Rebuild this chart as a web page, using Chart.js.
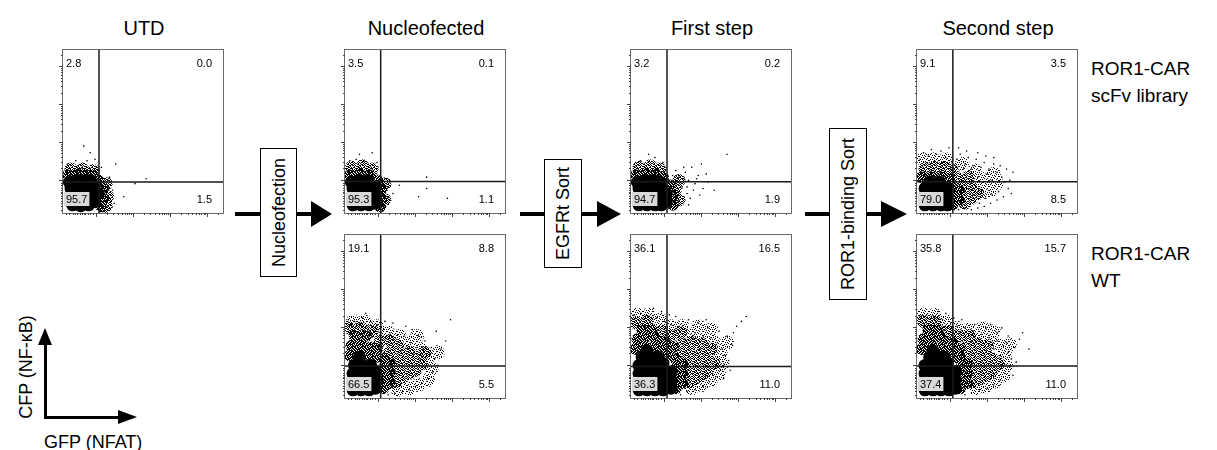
<!DOCTYPE html>
<html><head><meta charset="utf-8">
<script src="https://cdn.jsdelivr.net/npm/chart.js@4.4.1/dist/chart.umd.min.js"></script>
<style>
html,body{margin:0;padding:0;background:#fff;}
body{width:1217px;height:450px;position:relative;overflow:hidden;font-family:"Liberation Sans",Arial,sans-serif;color:#000;}
.t{position:absolute;white-space:nowrap;line-height:1;}
.line{position:absolute;background:#000;}
.stepbox{position:absolute;border:1.5px solid #000;background:#fff;box-sizing:border-box;display:flex;align-items:center;justify-content:center;}
.stepbox span{writing-mode:vertical-rl;transform:rotate(180deg);font-size:18px;line-height:1;white-space:nowrap;}
.headR{position:absolute;width:0;height:0;border-top:13px solid transparent;border-bottom:13px solid transparent;border-left:20px solid #000;}
</style></head>
<body>
<script>
// ---------------- DATA ----------------
const panelTitles = ['UTD', 'Nucleofected', 'First step', 'Second step'];
const rowLabelsTop = ['ROR1-CAR', 'scFv library'];
const rowLabelsBottom = ['ROR1-CAR', 'WT'];
const stepLabels = ['Nucleofection', 'EGFRt Sort', 'ROR1-binding Sort'];
const axisLabelY = 'CFP (NF-\u03BAB)';
const axisLabelX = 'GFP (NFAT)';

// quadrant percentages: [upper-left, upper-right, lower-left, lower-right]
const utdQuad      = [2.8, 0.0, 95.7, 1.5];
const libNucQuad   = [3.5, 0.1, 95.3, 1.1];
const libFirstQuad = [3.2, 0.2, 94.7, 1.9];
const libSecondQuad= [9.1, 3.5, 79.0, 8.5];
const wtNucQuad    = [19.1, 8.8, 66.5, 5.5];
const wtFirstQuad  = [36.1, 16.5, 36.3, 11.0];
const wtSecondQuad = [35.8, 15.7, 37.4, 11.0];

// quadrant gate positions (axis units 0-100)
const gateX = [22.5, 22.3, 22.5, 22.4, 22.3, 22.5, 22.4];
const gateY = [19.0, 19.3, 19.1, 19.2, 19.7, 19.3, 19.6];

// axis ticks (display units 0-100)
const decadeTicks = [20.4, 43.6, 66.9, 90.1];
const logMinor = [0.301, 0.477, 0.602, 0.699, 0.778, 0.845, 0.903, 0.954];
const lowTicks = [2, 4, 6, 7.5, 9, 10.5, 12, 13, 14, 15.5, 17, 18.5];

// event clouds (x, y in display units): solid core, dark, dense and medium density regions, single events
const utdCore = [[6,5],[11,4.5],[16,5],[20,7],[22,12],[5,10],[10,10],[15,10],[20,12],[5,15],[10,15],[15,15],[19,17],[4,19],[9,20],[14,20],[17,20]];
const utdDark = [[3,23],[8,24],[13,24],[18,23],[22,20],[25,15],[25,9],[24,4]];
const utdDense = [[5,27],[12,27],[19,26],[27,18],[28,10],[27,4]];
const utdMid = [];
const utdDots = [[13,41],[17,37],[24,28],[33,30],[45,18],[38,10],[29,22],[52,21],[20,33],[8,32],[31,14],[32,6],[3,30],[15,32]];

const libNucCore = [[5,5],[10,5],[15,5],[19,6],[5,10],[10,10],[15,10],[19,11],[5,15],[10,15],[15,15],[18,16],[4,19],[9,20],[14,20]];
const libNucDark = [[3,23],[9,24],[15,23],[20,20],[23,15],[23,9],[22,4]];
const libNucDense = [[4,28],[11,29],[17,27],[25,18],[25,8]];
const libNucMid = [];
const libNucDots = [[17,37],[7,33],[12,32],[25,21],[34,17],[51,22],[51,15],[46,10],[64,9],[30,12],[28,8],[26,14],[3,32],[20,31],[9,36]];

const libFirstCore = [[5,5],[10,5],[15,5],[19,5],[22,7],[5,10],[10,10],[15,10],[19,10],[22,12],[5,15],[10,15],[15,15],[19,15],[4,19],[9,20],[14,20],[18,19]];
const libFirstDark = [[3,23],[9,24],[15,24],[20,22],[24,17],[26,11],[26,5]];
const libFirstDense = [[5,28],[12,29],[18,27],[28,15],[30,8],[30,20]];
const libFirstMid = [];
const libFirstDots = [[6,32],[15,34],[11,36],[3,31],[20,31],[24,20],[26,23],[28,18],[30,22],[27,14],[32,16],[34,25],[36,20],[38,28],[40,18],[42,23],[44,30],[35,12],[30,8],[39,14],[45,15],[47,24],[33,28],[37,9],[60,36],[52,14],[28,26],[29,11],[31,19],[33,21],[35,16],[41,21],[43,11],[29,4],[36,5],[48,19]];

const libSecondCore = [[5,5],[10,5],[15,5],[19,5],[5,10],[10,10],[15,10],[19,10],[5,15],[10,15],[15,15],[19,15],[8,19],[14,19]];
const libSecondDark = [[22,5],[22,11],[22,16],[26,8],[26,14],[3,22],[9,22],[15,22],[20,21]];
const libSecondDense = [[30,6],[30,12],[30,18],[34,9],[34,15],[26,21],[32,22],[5,27],[11,28],[17,28],[22,26],[38,12]];
const libSecondMid = [[38,17],[42,13],[46,14],[40,21],[10,33],[44,20],[50,18],[36,26],[28,30],[18,33],[4,33],[48,24]];
const libSecondDots = [[2,33],[4,37],[7,35],[9,39],[12,36],[15,38],[18,34],[20,40],[22,31],[25,33],[27,36],[30,30],[32,34],[35,29],[37,33],[40,28],[42,31],[45,27],[48,30],[50,25],[53,22],[55,19],[57,15],[59,12],[54,10],[50,8],[46,6],[42,4],[38,3],[34,2],[30,3],[26,2],[47,20],[51,13],[44,24],[41,19],[38,22],[34,27],[29,27],[25,28],[21,27],[16,31],[11,32],[6,31],[58,20],[60,25],[56,27],[52,29],[48,34],[43,35],[38,37],[31,38],[26,40],[24,14],[27,10],[31,15],[35,11],[39,6],[43,9],[47,11]];

const wtNucCore = [[5,5],[10,5],[15,5],[19,6],[5,10],[10,10],[15,10],[20,11],[5,15],[10,15],[15,15],[19,16],[6,20],[11,20],[16,20],[9,25]];
const wtNucDark = [[3,26],[8,28],[14,27],[19,25],[4,32],[10,33],[16,31],[6,38],[13,38],[24,6],[24,12],[24,18],[24,24],[28,9],[28,15],[28,21],[20,30]];
const wtNucDense = [[3,43],[10,43],[17,41],[22,35],[28,28],[32,10],[32,16],[32,22],[36,13],[36,19],[36,26],[40,15],[40,21],[40,28],[44,17],[44,24],[48,21],[33,32],[50,28],[28,35]];
const wtNucMid = [[5,47],[12,47],[20,44],[27,40],[34,38],[41,34],[47,30],[52,25],[54,18],[52,11],[46,8],[40,6],[33,5],[58,28],[45,38]];
const wtNucDots = [[2,48],[6,47],[11,49],[16,47],[20,45],[24,42],[28,40],[33,39],[37,38],[41,34],[45,31],[49,30],[53,27],[56,24],[58,20],[55,16],[52,12],[48,9],[44,7],[40,5],[36,4],[31,3],[27,2],[50,35],[46,38],[42,42],[38,44],[30,46],[25,47],[60,30],[63,35],[66,48],[57,41],[13,52],[44,14],[47,24],[39,30],[30,36],[22,38],[35,29],[43,27],[51,21],[54,31],[19,41],[9,46],[4,45]];

const wtFirstCore = [[5,5],[10,5],[15,5],[20,5],[25,6],[5,10],[10,10],[15,10],[20,10],[25,11],[5,15],[10,15],[15,15],[20,15],[25,16],[5,20],[10,20],[15,20],[20,21],[7,25],[12,25],[17,25],[10,29]];
const wtFirstDark = [[3,30],[8,32],[14,31],[19,29],[24,26],[4,36],[10,38],[16,36],[21,34],[28,6],[28,12],[28,18],[28,24],[32,9],[32,15],[32,21],[7,42],[13,42],[26,31]];
const wtFirstDense = [[19,41],[3,46],[10,47],[25,38],[32,33],[32,27],[36,10],[36,16],[36,22],[36,29],[40,12],[40,18],[40,25],[44,14],[44,20],[44,27],[48,17],[48,24],[52,21],[38,34],[44,33],[50,30],[31,40]];
const wtFirstMid = [[4,51],[11,51],[18,48],[25,44],[32,44],[39,39],[46,37],[52,34],[56,28],[57,21],[55,15],[50,11],[44,8],[38,6],[60,34],[50,42],[42,44]];
const wtFirstDots = [[2,51],[6,52],[11,50],[16,49],[21,47],[25,45],[30,44],[35,42],[40,40],[45,38],[50,37],[54,34],[57,30],[59,26],[58,21],[56,17],[53,13],[49,10],[45,7],[40,5],[35,4],[31,2],[60,38],[64,40],[66,44],[69,47],[72,50],[63,33],[55,41],[48,43],[42,46],[36,48],[28,50],[19,53],[14,55],[61,23],[62,17],[58,12],[47,31],[52,27],[43,30],[39,37],[34,36],[27,41],[24,51],[47,48]];

const wtSecondCore = [[5,5],[10,5],[15,5],[20,5],[24,6],[5,10],[10,10],[15,10],[20,10],[24,11],[5,15],[10,15],[15,15],[20,15],[24,16],[5,20],[10,20],[15,20],[19,21],[8,25],[13,25],[17,25],[10,29]];
const wtSecondDark = [[3,30],[9,32],[15,31],[20,29],[24,25],[4,36],[10,38],[16,36],[22,34],[27,6],[27,12],[27,18],[27,24],[31,9],[31,15],[31,21],[7,42],[13,42],[26,30]];
const wtSecondDense = [[19,41],[4,47],[11,47],[26,38],[32,33],[31,27],[35,10],[35,16],[35,22],[35,28],[39,12],[39,18],[39,25],[43,14],[43,20],[43,27],[47,17],[47,24],[51,21],[38,33],[44,32],[33,38]];
const wtSecondMid = [[4,51],[11,51],[18,47],[25,43],[32,42],[39,38],[46,36],[52,32],[55,27],[56,20],[54,14],[49,10],[43,7],[37,6],[58,33],[48,41],[41,43]];
const wtSecondDots = [[2,50],[6,51],[11,49],[16,48],[21,46],[25,44],[30,43],[35,41],[40,39],[45,37],[50,35],[54,32],[57,28],[59,24],[58,19],[55,15],[52,11],[48,8],[44,6],[39,5],[34,3],[30,2],[61,31],[64,36],[66,40],[62,22],[57,38],[50,40],[43,43],[36,45],[28,48],[18,52],[48,30],[52,26],[43,29],[39,35],[34,35],[27,40],[56,34],[60,14],[48,12],[23,49],[13,53],[53,43],[46,45],[70,30]];

// ---------------- STYLE: stipple tiles ----------------
const tileDark  = ['1101110110','0111011011','1110101101','1011110110','0110111011','1101101110','1011011101','0111110101','1101011011','1010111110'];
const tileDense = ['1010110100','0101001011','1100110100','0011011010','1101000101','0110101100','1001110011','0110010101','1011101000','0100011011'];
const tileMid   = ['1000100010','0010001000','0100000101','0001010000','1000001001','0010100000','0000010010','0101000100','1000000001','0010101000'];
function makePattern(rows) {
  const t = document.createElement('canvas'); t.width = rows[0].length; t.height = rows.length;
  const g = t.getContext('2d'); g.fillStyle = '#000';
  rows.forEach((r, yy) => { for (let xx = 0; xx < r.length; xx++) if (r[xx] === '1') g.fillRect(xx, yy, 1, 1); });
  return g.createPattern(t, 'repeat');
}
const patDark = makePattern(tileDark);
const patDense = makePattern(tileDense);
const patMid = makePattern(tileMid);

// ---------------- LAYOUT ----------------
const PAD = 8, PW = 160, PH = 163;
const FONT = '"Liberation Sans", Arial, sans-serif';
const panels = [
  {L:63,  T:50,  core:utdCore,       dark:utdDark,       dense:utdDense,       mid:utdMid,       dots:utdDots,       quad:utdQuad},
  {L:345, T:50,  core:libNucCore,    dark:libNucDark,    dense:libNucDense,    mid:libNucMid,    dots:libNucDots,    quad:libNucQuad},
  {L:631, T:50,  core:libFirstCore,  dark:libFirstDark,  dense:libFirstDense,  mid:libFirstMid,  dots:libFirstDots,  quad:libFirstQuad},
  {L:917, T:50,  core:libSecondCore, dark:libSecondDark, dense:libSecondDense, mid:libSecondMid, dots:libSecondDots, quad:libSecondQuad},
  {L:345, T:235, core:wtNucCore,     dark:wtNucDark,     dense:wtNucDense,     mid:wtNucMid,     dots:wtNucDots,     quad:wtNucQuad},
  {L:631, T:235, core:wtFirstCore,   dark:wtFirstDark,   dense:wtFirstDense,   mid:wtFirstMid,   dots:wtFirstDots,   quad:wtFirstQuad},
  {L:917, T:235, core:wtSecondCore,  dark:wtSecondDark,  dense:wtSecondDense,  mid:wtSecondMid,  dots:wtSecondDots,  quad:wtSecondQuad}
];

function buildTicks(){
  const out = [];
  lowTicks.forEach(v => out.push({v, major:false}));
  const w = decadeTicks[1] - decadeTicks[0];
  decadeTicks.forEach(d => {
    out.push({v:d, major:true});
    logMinor.forEach(f => { const v = d + w * f; if (v <= 100) out.push({v, major:false}); });
  });
  return out;
}
const axisTicks = buildTicks();

const flowPlugin = {
  id: 'flow',
  afterDatasetsDraw(chart, args, o) {
    const {ctx, chartArea:a} = chart;
    const xs = chart.scales.x, ys = chart.scales.y;
    ctx.save();
    ctx.strokeStyle = '#1a1a1a'; ctx.lineWidth = 1.5;
    const gx = xs.getPixelForValue(o.gx), gy = ys.getPixelForValue(o.gy);
    ctx.beginPath(); ctx.moveTo(gx, a.top); ctx.lineTo(gx, a.bottom);
    ctx.moveTo(a.left, gy); ctx.lineTo(a.right, gy); ctx.stroke();
    ctx.strokeStyle = '#6a6a6a'; ctx.lineWidth = 1;
    ctx.strokeRect(a.left - 0.5, a.top - 0.5, a.right - a.left + 1, a.bottom - a.top + 1);
    ctx.strokeStyle = '#444'; ctx.lineWidth = 1;
    ctx.beginPath();
    axisTicks.forEach(t => {
      const len = t.major ? 4 : 2;
      const px = Math.round(xs.getPixelForValue(t.v)) + 0.5;
      ctx.moveTo(px, a.bottom); ctx.lineTo(px, a.bottom + len);
      const py = Math.round(ys.getPixelForValue(t.v)) + 0.5;
      ctx.moveTo(a.left, py); ctx.lineTo(a.left - len, py);
    });
    ctx.stroke();
    const q = o.quad.map(v => v.toFixed(1));
    ctx.font = '11px ' + FONT;
    ctx.textBaseline = 'alphabetic';
    ctx.fillStyle = '#d9d9d9';
    const llw = ctx.measureText(q[2]).width;
    ctx.fillRect(a.left + 1, a.bottom - 21, llw + 4, 14);
    ctx.fillStyle = '#000';
    ctx.textAlign = 'left';
    ctx.fillText(q[0], a.left + 3, a.top + 17);
    ctx.fillText(q[2], a.left + 3, a.bottom - 10);
    ctx.textAlign = 'right';
    ctx.fillText(q[1], a.right - 11, a.top + 17);
    ctx.fillText(q[3], a.right - 11, a.bottom - 10);
    ctx.restore();
  }
};

const toXY = arr => arr.map(([x, y]) => ({x, y}));

panels.forEach((p, i) => {
  const c = document.createElement('canvas');
  c.width = PW + 2 * PAD; c.height = PH + 2 * PAD;
  c.style.cssText = `position:absolute;left:${p.L - PAD}px;top:${p.T - PAD}px;width:${PW + 2 * PAD}px;height:${PH + 2 * PAD}px;`;
  document.body.appendChild(c);
  new Chart(c, {
    type: 'scatter',
    data: {datasets: [
      {data: toXY(p.core), pointRadius: 6.5, pointBorderWidth: 0, backgroundColor: '#000', order: 0, clip: 0},
      {data: toXY(p.dots), pointRadius: 0.8, pointBorderWidth: 0, backgroundColor: '#000', order: 1, clip: 0},
      {data: toXY(p.dark), pointRadius: 6, pointBorderWidth: 0, backgroundColor: patDark, order: 2, clip: 0},
      {data: toXY(p.dense), pointRadius: 6.5, pointBorderWidth: 0, backgroundColor: patDense, order: 3, clip: 0},
      {data: toXY(p.mid), pointRadius: 7, pointBorderWidth: 0, backgroundColor: patMid, order: 4, clip: 0}
    ]},
    options: {
      responsive: false, animation: false, events: [], devicePixelRatio: 1,
      layout: {padding: PAD},
      scales: {
        x: {type: 'linear', min: 0, max: 100, display: false},
        y: {type: 'linear', min: 0, max: 100, display: false}
      },
      plugins: {legend: {display: false}, tooltip: {enabled: false},
        flow: {quad: p.quad, gx: gateX[i], gy: gateY[i]}}
    },
    plugins: [flowPlugin]
  });
});

// ---------------- TEXT & ARROWS ----------------
function addText(txt, left, baseline, size, align) {
  const d = document.createElement('div');
  d.className = 't';
  d.textContent = txt;
  d.style.fontSize = size + 'px';
  d.style.top = (baseline - 0.8465 * size) + 'px';
  if (align === 'center') { d.style.left = (left - 150) + 'px'; d.style.width = '300px'; d.style.textAlign = 'center'; }
  else d.style.left = left + 'px';
  document.body.appendChild(d);
  return d;
}
panelTitles.forEach((t, i) => addText(t, panels[i].L + 81, 35, 20, 'center'));
addText(rowLabelsTop[0], 1091, 75, 19);
addText(rowLabelsTop[1], 1091, 102, 19);
addText(rowLabelsBottom[0], 1091, 260, 19);
addText(rowLabelsBottom[1], 1091, 287, 19);

function addLine(x, y, w, h) {
  const d = document.createElement('div'); d.className = 'line';
  d.style.cssText += `left:${x}px;top:${y}px;width:${w}px;height:${h}px;`;
  document.body.appendChild(d);
}
function addStep(label, x0, x1, boxL, boxR, boxT, boxB, y, headW) {
  addLine(x0, y - 2, x1 - x0, 4);
  const h = document.createElement('div'); h.className = 'headR';
  h.style.left = x1 + 'px'; h.style.top = (y - 13) + 'px'; h.style.borderLeftWidth = headW + 'px';
  document.body.appendChild(h);
  const b = document.createElement('div'); b.className = 'stepbox';
  b.style.cssText += `left:${boxL}px;top:${boxT}px;width:${boxR - boxL}px;height:${boxB - boxT}px;`;
  const s = document.createElement('span'); s.textContent = label; b.appendChild(s);
  document.body.appendChild(b);
}
addStep(stepLabels[0], 235, 311, 260, 297, 148, 277, 214, 21);
addStep(stepLabels[1], 520, 597, 544, 582, 159, 268, 214, 24);
addStep(stepLabels[2], 805, 881, 829, 867, 128, 300, 214, 26);

addLine(44, 344, 3, 75);
addLine(44, 416, 76, 3);
(function(){
  const up = document.createElement('div');
  up.style.cssText = 'position:absolute;left:38px;top:328px;width:0;height:0;border-left:7.5px solid transparent;border-right:7.5px solid transparent;border-bottom:17px solid #000;';
  document.body.appendChild(up);
  const rt = document.createElement('div');
  rt.style.cssText = 'position:absolute;left:118px;top:410px;width:0;height:0;border-top:7.5px solid transparent;border-bottom:7.5px solid transparent;border-left:19px solid #000;';
  document.body.appendChild(rt);
  const yl = document.createElement('div');
  yl.className = 't';
  yl.textContent = axisLabelY;
  yl.style.cssText += 'font-size:18px;left:26px;top:367px;transform:translate(-50%,-50%) rotate(-90deg);';
  document.body.appendChild(yl);
})();
addText(axisLabelX, 44, 448, 18);
</script>
</body></html>
